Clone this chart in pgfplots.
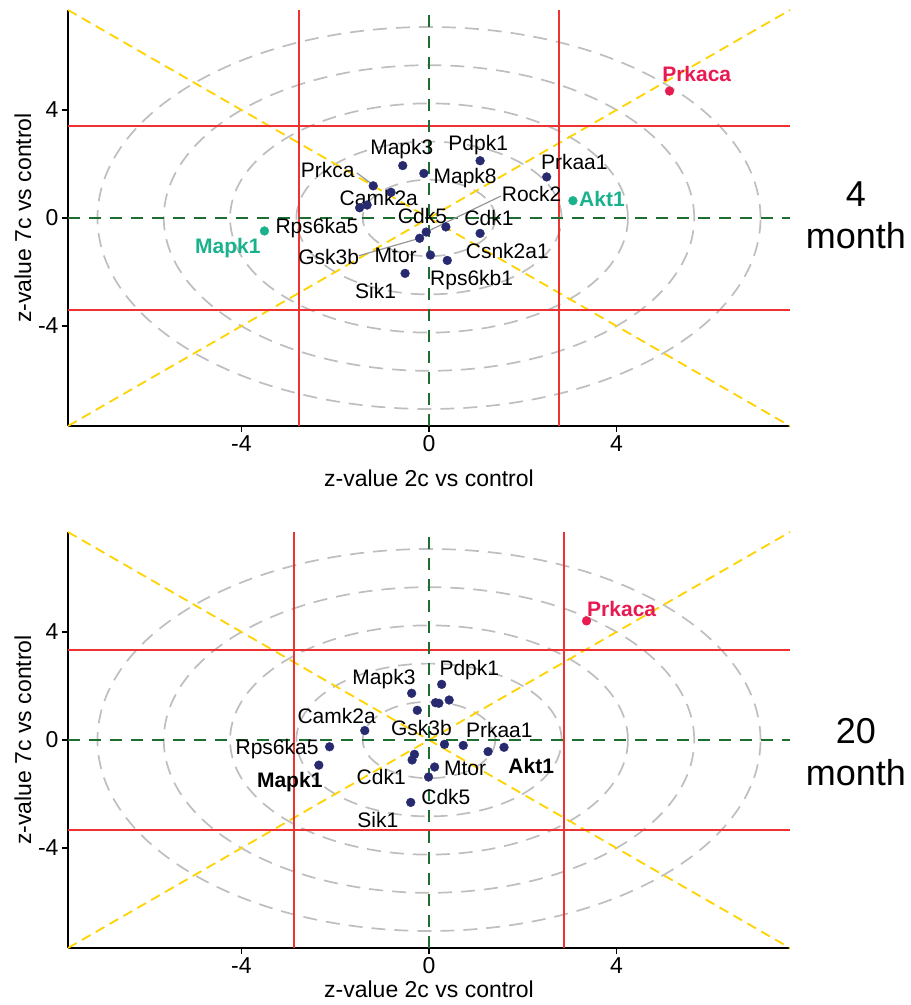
\documentclass[border=0pt]{standalone}
\usepackage{fontspec}
\setmainfont{Liberation Sans}
\usepackage{pgfplots}
\pgfplotsset{compat=1.18}
\definecolor{redl}{RGB}{238,50,50}
\definecolor{goldl}{RGB}{255,210,0}
\definecolor{dgreen}{RGB}{30,110,50}
\definecolor{navyp}{RGB}{40,42,112}
\definecolor{tealp}{RGB}{26,178,140}
\definecolor{pinkp}{RGB}{232,26,82}
\definecolor{ringgray}{RGB}{190,190,190}
\definecolor{leadgray}{RGB}{150,150,150}
\newcommand{\lbl}{\fontsize{21}{25}\selectfont}
\newcommand{\ttl}{\fontsize{23}{27}\selectfont}
\pgfplotsset{volc/.style={scale only axis, width=722pt, height=416pt,
  xmin=-7.7,xmax=7.7,ymin=-7.7,ymax=7.7,
  axis lines*=left, axis line style={line width=1.6pt,black},
  xtick={-4,0,4}, ytick={-4,0,4}, tick align=outside, major tick length=6pt,
  tick style={line width=1.6pt,black}, ticklabel style={font=\ttl},
  /pgf/number format/assume math mode=true, clip=false, anchor=south west}}
\tikzset{ring/.style={ringgray, line width=1.7pt, dash pattern=on 14pt off 9pt},
  redline/.style={redl, line width=2pt},
  yel/.style={goldl, line width=1.8pt, dash pattern=on 10pt off 6pt},
  grn/.style={dgreen, line width=1.8pt, dash pattern=on 12pt off 9pt},
  lead/.style={leadgray, line width=1.2pt}}
\begin{document}
\begin{tikzpicture}
\useasboundingbox (0,0) rectangle (911pt,1005pt);
% ---------------- top panel: 4 month
\begin{axis}[volc, at={(68pt,579pt)}]
\draw[ring] (axis cs:0,0) ellipse [x radius=1.414, y radius=1.414];
\draw[ring] (axis cs:0,0) ellipse [x radius=2.828, y radius=2.828];
\draw[ring] (axis cs:0,0) ellipse [x radius=4.243, y radius=4.243];
\draw[ring] (axis cs:0,0) ellipse [x radius=5.657, y radius=5.657];
\draw[ring] (axis cs:0,0) ellipse [x radius=7.071, y radius=7.071];
\draw[yel] (axis cs:-7.7,-7.7) -- (axis cs:7.7,7.7);
\draw[yel] (axis cs:-7.7,7.7) -- (axis cs:7.7,-7.7);
\draw[redline] (axis cs:-2.78,-7.7) -- (axis cs:-2.78,7.7);
\draw[redline] (axis cs:2.78,-7.7) -- (axis cs:2.78,7.7);
\draw[redline] (axis cs:-7.7,3.42) -- (axis cs:7.7,3.42);
\draw[redline] (axis cs:-7.7,-3.42) -- (axis cs:7.7,-3.42);
\draw[grn] (axis cs:-7.7,0) -- (axis cs:7.7,0);
\draw[grn] (axis cs:0,-7.7) -- (axis cs:0,7.7);
\draw[lead] (axis cs:-1.54,1.67) -- (axis cs:-1.22,1.26);
\draw[lead] (axis cs:1.53,0.81) -- (axis cs:-0.06,-0.52);
\draw[lead] (axis cs:-1.50,-1.40) -- (axis cs:-0.2,-0.75);
\addplot[only marks, mark=*, mark size=4.4pt, navyp] coordinates {
(-0.56,1.94) (-0.11,1.65) (1.09,2.12) (2.51,1.52) (-1.19,1.19) (-0.81,0.95)
(-1.48,0.38) (-1.32,0.48) (-0.06,-0.52) (-0.20,-0.75) (0.36,-0.33) (1.09,-0.57)
(0.03,-1.37) (0.39,-1.57) (-0.51,-2.05)};
\addplot[only marks, mark=*, mark size=4.4pt, tealp] coordinates {(3.07,0.64) (-3.51,-0.48)};
\addplot[only marks, mark=*, mark size=4.4pt, pinkp] coordinates {(5.13,4.70)};
\begin{scope}[every node/.style={font=\lbl, inner sep=0pt}]
\node at (axis cs:-0.58,2.56) {Mapk3};
\node at (axis cs:1.05,2.70) {Pdpk1};
\node at (axis cs:3.10,2.09) {Prkaa1};
\node at (axis cs:-2.16,1.78) {Prkca};
\node at (axis cs:0.77,1.47) {Mapk8};
\node at (axis cs:-1.07,0.75) {Camk2a};
\node at (axis cs:-0.14,0.06) {Cdk5};
\node at (axis cs:2.19,0.88) {Rock2};
\node at (axis cs:1.28,-0.01) {Cdk1};
\node at (axis cs:-2.39,-0.38) {Rps6ka5};
\node at (axis cs:-2.14,-1.43) {Gsk3b};
\node at (axis cs:-0.71,-1.40) {Mtor};
\node at (axis cs:1.67,-1.21) {Csnk2a1};
\node at (axis cs:0.91,-2.30) {Rps6kb1};
\node at (axis cs:-1.14,-2.69) {Sik1};
\node[font=\lbl\bfseries, text=tealp] at (axis cs:3.69,0.69) {Akt1};
\node[font=\lbl\bfseries, text=tealp] at (axis cs:-4.29,-1.12) {Mapk1};
\node[font=\lbl\bfseries, text=pinkp] at (axis cs:5.71,5.33) {Prkaca};
\end{scope}
\node[font=\ttl] at (rel axis cs:0.5,-0.125) {z-value 2c vs control};
\node[font=\ttl, rotate=90] at (rel axis cs:-0.0623,0.5) {z-value 7c vs control};
\node[font=\fontsize{36}{42}\selectfont, align=center] at (rel axis cs:1.0914,0.507) {4\\month};
\end{axis}
% ---------------- bottom panel: 20 month
\begin{axis}[volc, at={(68pt,57pt)}]
\draw[ring] (axis cs:0,0) ellipse [x radius=1.414, y radius=1.414];
\draw[ring] (axis cs:0,0) ellipse [x radius=2.828, y radius=2.828];
\draw[ring] (axis cs:0,0) ellipse [x radius=4.243, y radius=4.243];
\draw[ring] (axis cs:0,0) ellipse [x radius=5.657, y radius=5.657];
\draw[ring] (axis cs:0,0) ellipse [x radius=7.071, y radius=7.071];
\draw[yel] (axis cs:-7.7,-7.7) -- (axis cs:7.7,7.7);
\draw[yel] (axis cs:-7.7,7.7) -- (axis cs:7.7,-7.7);
\draw[redline] (axis cs:-2.87,-7.7) -- (axis cs:-2.87,7.7);
\draw[redline] (axis cs:2.87,-7.7) -- (axis cs:2.87,7.7);
\draw[redline] (axis cs:-7.7,3.33) -- (axis cs:7.7,3.33);
\draw[redline] (axis cs:-7.7,-3.33) -- (axis cs:7.7,-3.33);
\draw[grn] (axis cs:-7.7,0) -- (axis cs:7.7,0);
\draw[grn] (axis cs:0,-7.7) -- (axis cs:0,7.7);
\addplot[only marks, mark=*, mark size=4.4pt, navyp] coordinates {
(0.27,2.06) (-0.37,1.73) (0.43,1.48) (0.14,1.38) (0.21,1.36) (-0.25,1.10)
(-1.37,0.35) (-2.12,-0.25) (-2.35,-0.93) (0.33,-0.16) (0.73,-0.20) (1.26,-0.43)
(1.60,-0.27) (-0.31,-0.53) (-0.36,-0.74) (0.12,-1.00) (-0.01,-1.37) (-0.39,-2.31)};
\addplot[only marks, mark=*, mark size=4.4pt, pinkp] coordinates {(3.36,4.41)};
\begin{scope}[every node/.style={font=\lbl, inner sep=0pt}]
\node at (axis cs:0.86,2.59) {Pdpk1};
\node at (axis cs:-0.96,2.26) {Mapk3};
\node at (axis cs:-1.97,0.89) {Camk2a};
\node at (axis cs:-0.16,0.43) {Gsk3b};
\node at (axis cs:1.50,0.37) {Prkaa1};
\node at (axis cs:-3.24,-0.33) {Rps6ka5};
\node at (axis cs:0.77,-1.05) {Mtor};
\node at (axis cs:-1.02,-1.36) {Cdk1};
\node at (axis cs:0.36,-2.12) {Cdk5};
\node at (axis cs:-1.09,-2.96) {Sik1};
\node[font=\lbl\bfseries] at (axis cs:-2.97,-1.54) {Mapk1};
\node[font=\lbl\bfseries] at (axis cs:2.18,-0.96) {Akt1};
\node[font=\lbl\bfseries, text=pinkp] at (axis cs:4.11,4.85) {Prkaca};
\end{scope}
\node[font=\ttl] at (rel axis cs:0.5,-0.1) {z-value 2c vs control};
\node[font=\ttl, rotate=90] at (rel axis cs:-0.0623,0.5) {z-value 7c vs control};
\node[font=\fontsize{36}{42}\selectfont, align=center] at (rel axis cs:1.0914,0.472) {20\\month};
\end{axis}
\end{tikzpicture}
\end{document}
